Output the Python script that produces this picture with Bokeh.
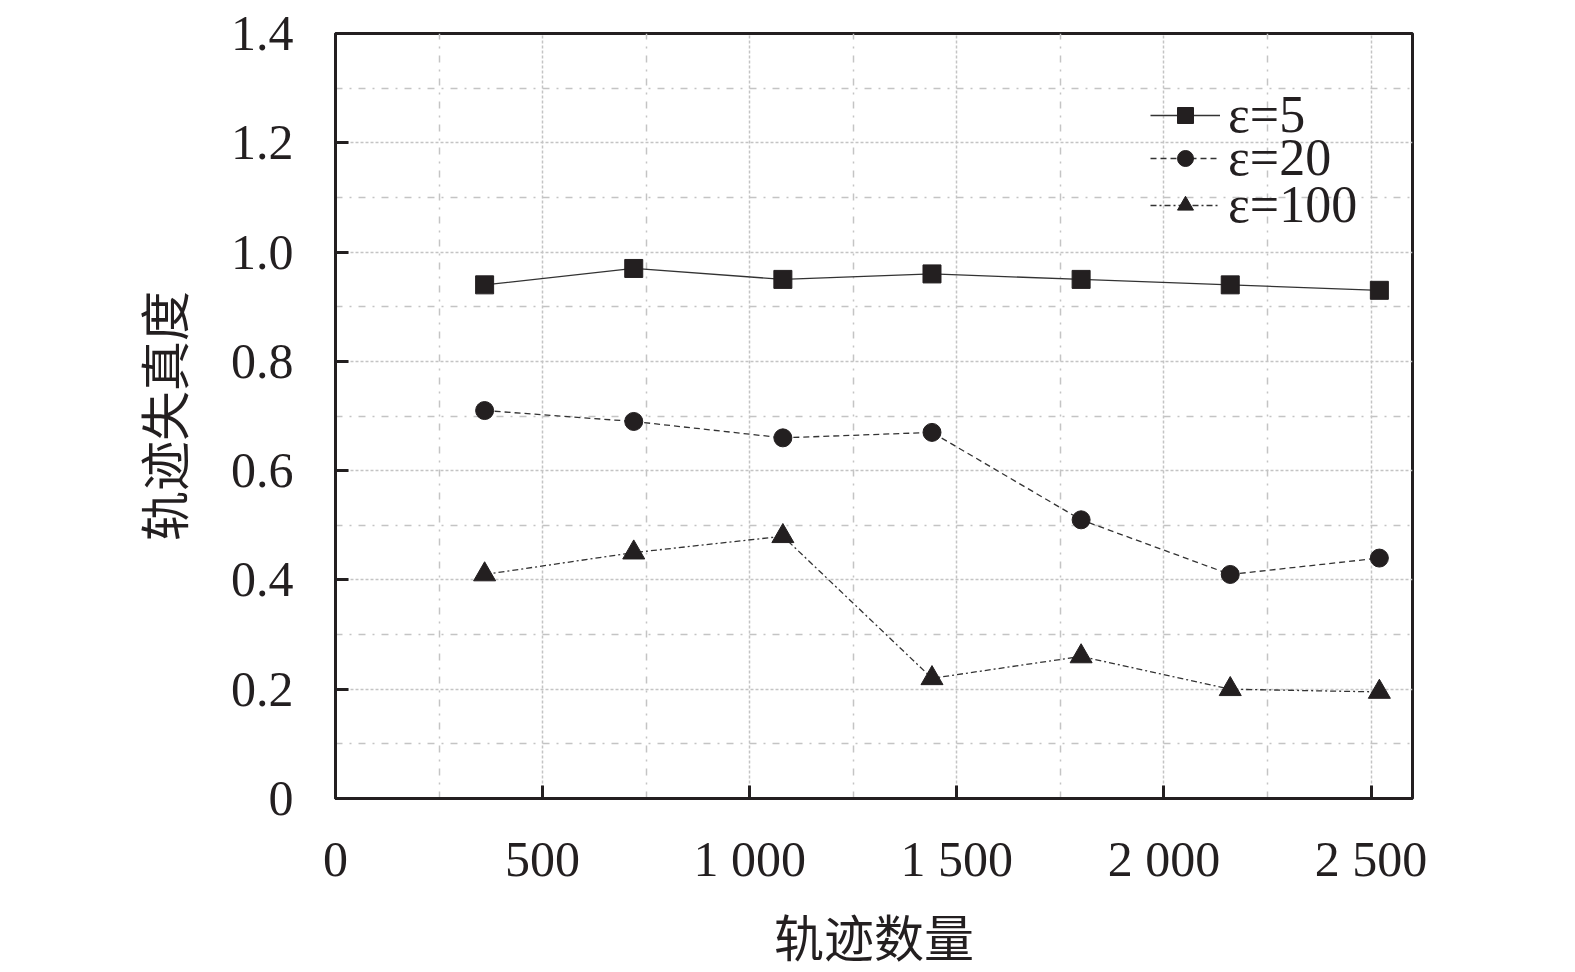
from bokeh.plotting import figure
from bokeh.models import Range1d, FixedTicker, CustomJSTickFormatter, Legend, LegendItem
from bokeh.embed import file_html
from bokeh.resources import INLINE

x_counts = [360, 720, 1080, 1440, 1800, 2160, 2520]
eps5 = [0.94, 0.97, 0.95, 0.96, 0.95, 0.94, 0.93]
eps20 = [0.71, 0.69, 0.66, 0.67, 0.51, 0.41, 0.44]
eps100 = [0.41, 0.45, 0.48, 0.22, 0.26, 0.20, 0.195]
labels = ["ε=5", "ε=20", "ε=100"]
x_ticks = [0, 500, 1000, 1500, 2000, 2500]
x_minor = [250, 750, 1250, 1750, 2250]
y_ticks = [0, 0.2, 0.4, 0.6, 0.8, 1.0, 1.2, 1.4]
y_minor = [0.1, 0.3, 0.5, 0.7, 0.9, 1.1, 1.3]

SERIF = "Liberation Serif"
CJK = "Noto Sans CJK SC"

p = figure(frame_width=1077, frame_height=765, output_backend="svg", toolbar_location=None,
           x_range=Range1d(0, 2600), y_range=Range1d(0, 1.4),
           min_border_left=335, min_border_top=33, min_border_right=140, min_border_bottom=140)
p.background_fill_color = "white"
p.border_fill_color = "white"
p.outline_line_color = "#231f20"
p.outline_line_width = 3

p.xaxis.ticker = FixedTicker(ticks=x_ticks, minor_ticks=x_minor)
p.yaxis.ticker = FixedTicker(ticks=y_ticks, minor_ticks=y_minor)
p.xaxis.formatter = CustomJSTickFormatter(code="""
  if (tick >= 1000) { const t = Math.floor(tick/1000); const r = Math.round(tick % 1000); return t + " " + String(r).padStart(3, "0"); }
  return String(tick);
""")
p.yaxis.formatter = CustomJSTickFormatter(code="""
  return tick == 0 ? "0" : tick.toFixed(1);
""")

for ax in (p.xaxis, p.yaxis):
    ax.axis_line_color = "#231f20"
    ax.axis_line_width = 3
    ax.major_tick_line_color = "#231f20"
    ax.major_tick_line_width = 3
    ax.major_tick_in = 13
    ax.major_tick_out = 0
    ax.minor_tick_line_color = None
    ax.major_label_text_font = SERIF
    ax.major_label_text_font_size = "50px"
    ax.major_label_text_color = "#231f20"
    ax.axis_label_text_font = CJK
    ax.axis_label_text_font_size = "50px"
    ax.axis_label_text_font_style = "normal"
    ax.axis_label_text_color = "#231f20"

p.xaxis.major_label_standoff = 28
p.yaxis.major_label_standoff = 38
p.xaxis.axis_label = "轨迹数量"
p.yaxis.axis_label = "轨迹失真度"
p.xaxis.axis_label_standoff = 9
p.yaxis.axis_label_standoff = 30

for g in (p.xgrid, p.ygrid):
    g.grid_line_color = "#c4c4c4"
    g.grid_line_width = 1.5
    g.grid_line_dash = "3 2"
    g.minor_grid_line_color = "#c4c4c4"
    g.minor_grid_line_width = 1.5
    g.minor_grid_line_dash = "7 7 2 7"

lc = "#333333"
r1l = p.line(x_counts, eps5, line_color=lc, line_width=1.3)
r1m = p.scatter(x_counts, eps5, marker="square", size=18, fill_color="#231f20", line_color="#231f20")
r2l = p.line(x_counts, eps20, line_color=lc, line_width=1.3, line_dash="6 4")
r2m = p.scatter(x_counts, eps20, marker="circle", size=18, fill_color="#231f20", line_color="#231f20")
r3l = p.line(x_counts, eps100, line_color=lc, line_width=1.3, line_dash="6 3 2 3")
r3m = p.scatter(x_counts, eps100, marker="triangle", size=22, fill_color="#231f20", line_color="#231f20")

series = [(labels[0], [r1l, r1m]), (labels[1], [r2l, r2m]), (labels[2], [r3l, r3m])]
legend_y = [654, 611, 564]
for (lab, rends), ly in zip(series, legend_y):
    legend = Legend(items=[LegendItem(label=lab, renderers=rends)], location=(815, ly))
    legend.border_line_color = None
    legend.background_fill_alpha = 0
    legend.padding = 0
    legend.spacing = 0
    legend.margin = 0
    legend.glyph_width = 70
    legend.glyph_height = 40
    legend.label_height = 40
    legend.label_standoff = 8
    legend.label_text_font = SERIF
    legend.label_text_font_size = "52px"
    legend.label_text_color = "#231f20"
    p.add_layout(legend)

open("out.html", "w").write(file_html(p, INLINE))
